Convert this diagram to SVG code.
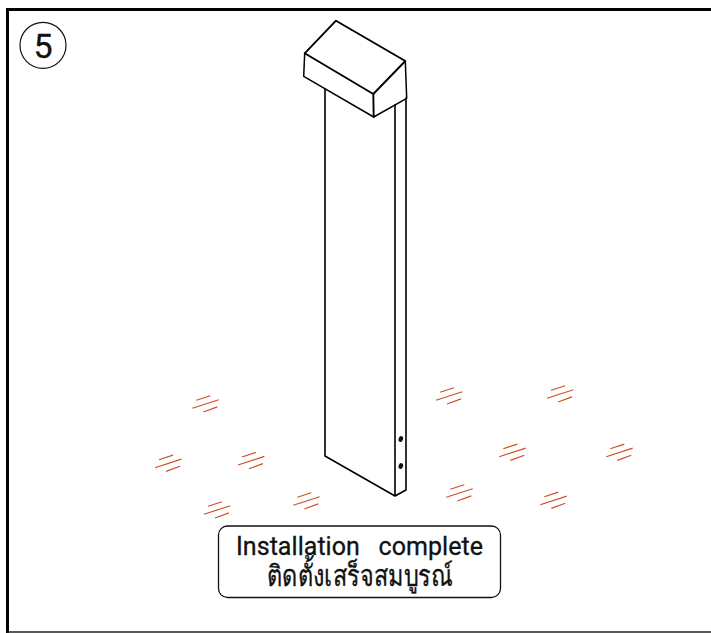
<svg xmlns="http://www.w3.org/2000/svg" width="711" height="633" viewBox="0 0 711 633">
<style>
.k{fill:none;stroke:#000;stroke-linejoin:round;stroke-linecap:round}
.t{font-family:"Roboto","Noto Sans",sans-serif;fill:#111;stroke:#111;stroke-width:.3;text-anchor:middle}
.h{stroke:#cf4f26;stroke-width:1.200;fill:none}
</style>
<defs>
<g id="hatch"><path class="h" d="M4 -8L18 -12.600M0 0L26.400 -8.600M11 3.700L25 -1.400"/></g>
</defs>
<rect width="711" height="633" fill="#fff"/>
<g id="frame"><path d="M7.500 633V9.500H711" fill="none" stroke="#000" stroke-width="3"/><path d="M7 632H711" stroke="#222" stroke-width="1.500"/></g>
<g id="step"><circle cx="43" cy="45.300" r="23" fill="#fff" stroke="#111" stroke-width="1.200"/><text class="t" x="43" y="57.500" font-size="34">5</text></g>
<g id="post">
<path class="k" stroke-width="1.600" d="M325 89V456L395 496V104.700M395 496L406 490V98"/>
<path class="k" stroke-width="1.500" d="M304.700 53.300L303.700 76.300L373.700 117L406.700 98.300L405.300 61"/>
<path class="k" stroke-width="1.900" d="M304.700 53.300L336 20.700L405.300 61L373.300 94ZM373.300 94L373.700 117"/>
<ellipse cx="400.800" cy="439" rx="2.200" ry="3" fill="#111" transform="rotate(20 400.800 439)"/>
<ellipse cx="400.800" cy="466" rx="2.200" ry="3" fill="#111" transform="rotate(20 400.800 466)"/>
</g>
<g id="hatches">
<use href="#hatch" x="192.300" y="408.300"/><use href="#hatch" x="155" y="467.700"/><use href="#hatch" x="238" y="465"/><use href="#hatch" x="204" y="514.300"/><use href="#hatch" x="293.300" y="505.300"/><use href="#hatch" x="436" y="400.300"/><use href="#hatch" x="547" y="398.300"/><use href="#hatch" x="499.300" y="456.700"/><use href="#hatch" x="606.300" y="456.700"/><use href="#hatch" x="446.300" y="497.300"/><use href="#hatch" x="540.300" y="504.700"/>
</g>
<g id="caption">
<rect x="218.500" y="526" width="282" height="71.500" rx="9" fill="#fff" stroke="#111" stroke-width="1.300"/>
<text class="t" x="359.500" y="555" font-size="25" textLength="247" lengthAdjust="spacing" xml:space="preserve">Installation   complete</text>
<text class="t" x="360" y="586" font-size="29" textLength="186" lengthAdjust="spacingAndGlyphs">ติดตั้งเสร็จสมบูรณ์</text>
</g>
</svg>
